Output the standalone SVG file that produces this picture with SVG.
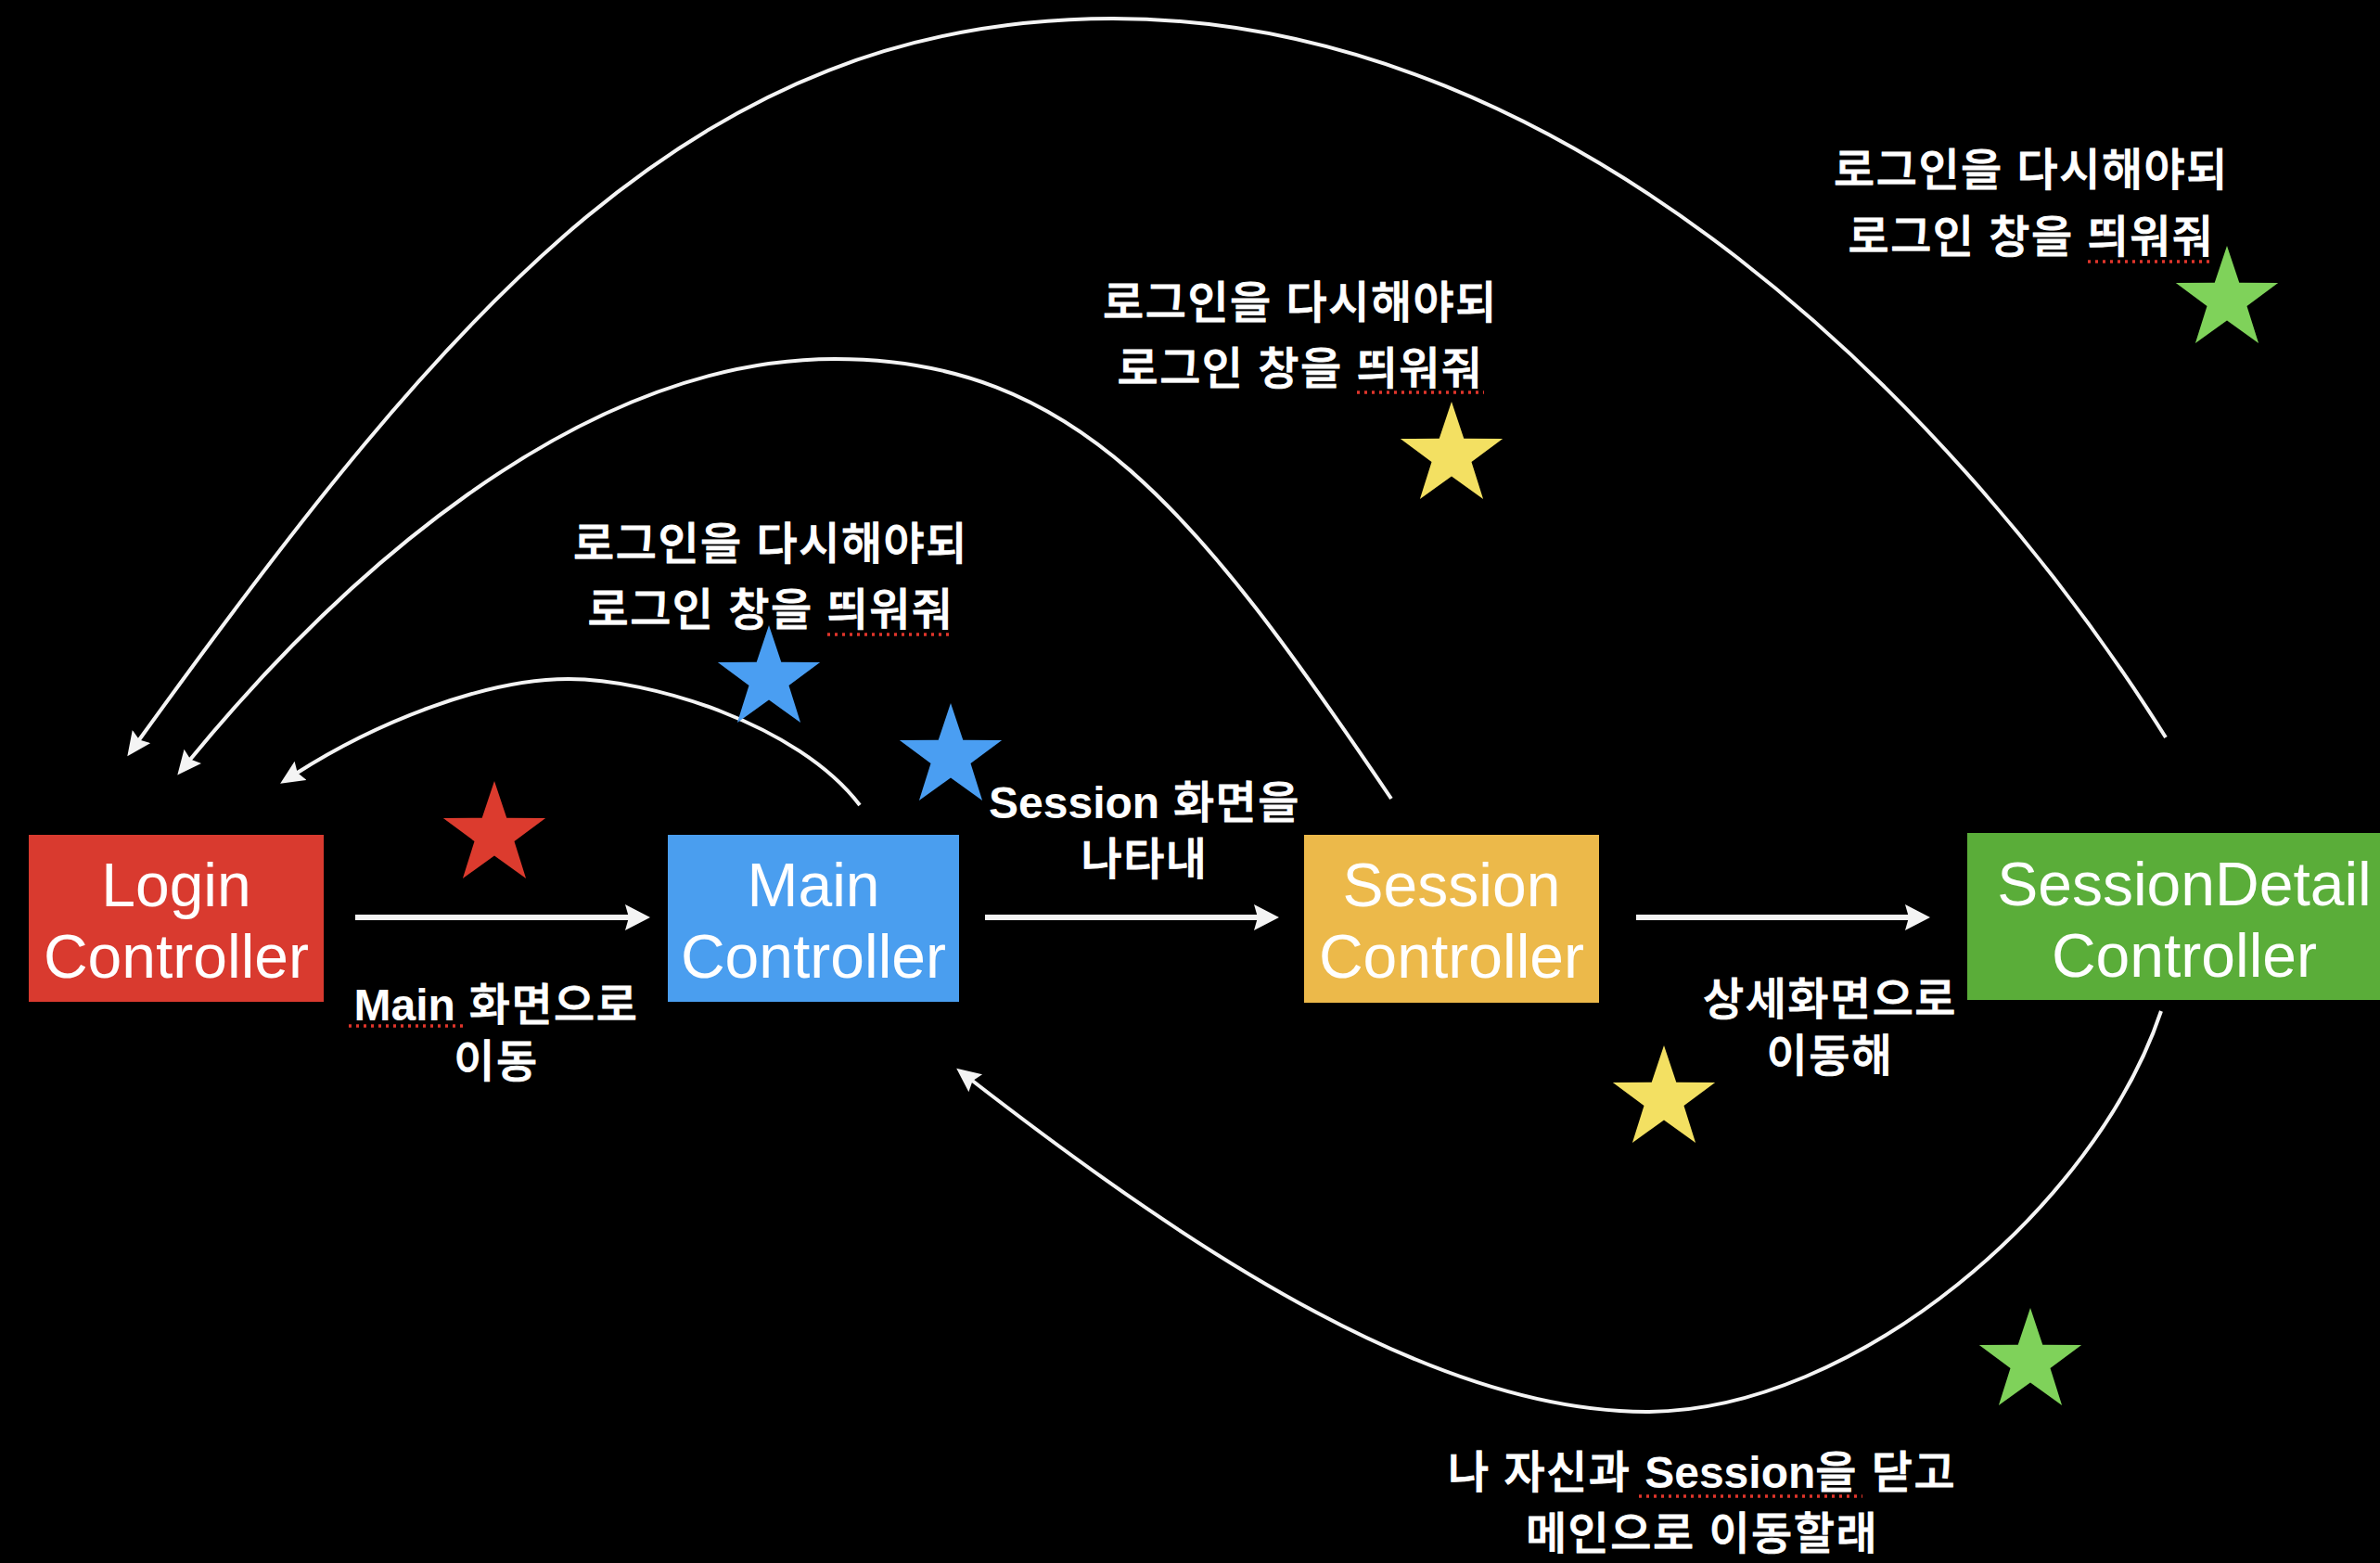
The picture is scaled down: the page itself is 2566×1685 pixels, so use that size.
<svg xmlns="http://www.w3.org/2000/svg" xmlns:xlink="http://www.w3.org/1999/xlink" width="2566" height="1685" viewBox="0 0 2566 1685">
  <style>
    .box-text { font-family: "Liberation Sans", Arial, "Noto Sans CJK KR", sans-serif; font-size: 66px; fill: #ffffff; text-anchor: middle; }
    .label { font-family: "Liberation Sans", "Noto Sans CJK KR", sans-serif; font-size: 48px; font-weight: 500; letter-spacing: 1.5px; fill: #ffffff; stroke: #ffffff; stroke-width: 0.9px; text-anchor: middle; }
    .latin { font-weight: 700; letter-spacing: 0px; stroke: none; }
    .conn { fill: none; stroke: #f4f4f4; stroke-linecap: butt; }
    .straight { stroke-width: 6; marker-end: url(#arrowThick); }
    .curve { stroke-width: 4; marker-end: url(#arrowThin); }
    .spell { stroke: #e0352b; stroke-width: 3.5; stroke-dasharray: 3 5; fill: none; }
  </style>
  <defs>
    <marker id="arrowThick" markerUnits="userSpaceOnUse" markerWidth="30" markerHeight="30" refX="6" refY="14" orient="auto">
      <path d="M0,0 L27,14 L0,28 L4,14 z" fill="#f4f4f4"/>
    </marker>
    <marker id="arrowThin" markerUnits="userSpaceOnUse" markerWidth="30" markerHeight="28" refX="6" refY="12" orient="auto">
      <path d="M0,0 L26,12 L0,24 L4,12 z" fill="#f4f4f4"/>
    </marker>
    <path id="star" d="M0,-58 L13.28,-18.28 L55.16,-17.92 L21.49,6.98 L34.09,46.92 L0,22.6 L-34.09,46.92 L-21.49,6.98 L-55.16,-17.92 L-13.28,-18.28 Z"/>
  </defs>

  <rect x="0" y="0" width="2566" height="1685" fill="#000000"/>

  <g id="connectors">
    <line class="conn straight" x1="383" y1="989" x2="680" y2="989"/>
    <line class="conn straight" x1="1062" y1="989" x2="1358" y2="989"/>
    <line class="conn straight" x1="1764" y1="989" x2="2060" y2="989"/>
    <path class="conn curve" d="M927,868 C860,780 700,732 613,732 C520,732 402,781 319,834"/>
    <path class="conn curve" d="M1500,861 C1290,550 1160,387 900,387 C620,387 360,630 204,820"/>
    <path class="conn curve" d="M2335,795 C2119,451 1700,20 1200,20 C750,20 487,330 149,799"/>
    <path class="conn curve" d="M2330,1090 C2260,1300 2000,1522 1775,1522 C1550,1522 1295,1356 1047,1164"/>
  </g>

  <g id="node-login">
    <rect x="31" y="900" width="318" height="180" fill="#d93a2f"/>
    <text class="box-text" x="190" y="977">Login</text>
    <text class="box-text" x="190" y="1054">Controller</text>
  </g>
  <g id="node-main">
    <rect x="720" y="900" width="314" height="180" fill="#4a9eef"/>
    <text class="box-text" x="877" y="977">Main</text>
    <text class="box-text" x="877" y="1054">Controller</text>
  </g>
  <g id="node-session">
    <rect x="1406" y="900" width="318" height="181" fill="#ecb94a"/>
    <text class="box-text" x="1565" y="977">Session</text>
    <text class="box-text" x="1565" y="1054">Controller</text>
  </g>
  <g id="node-sessiondetail">
    <rect x="2121" y="898" width="470" height="180" fill="#5aad39"/>
    <text class="box-text" x="2355" y="976">SessionDetail</text>
    <text class="box-text" x="2355" y="1053">Controller</text>
  </g>

  <g id="stars">
    <use xlink:href="#star" href="#star" x="533" y="900" fill="#dc3b2e"/>
    <use xlink:href="#star" href="#star" x="829" y="732" fill="#4a9ef2"/>
    <use xlink:href="#star" href="#star" x="1025" y="816" fill="#4a9ef2"/>
    <use xlink:href="#star" href="#star" x="1565" y="491" fill="#f3e062"/>
    <use xlink:href="#star" href="#star" x="1794" y="1185" fill="#f3e062"/>
    <use xlink:href="#star" href="#star" x="2401" y="323" fill="#7fd25a"/>
    <use xlink:href="#star" href="#star" x="2189" y="1468" fill="#7fd25a"/>
  </g>

  <g id="labels">
    <text class="label" x="831" y="603">로그인을 다시해야되</text>
    <text class="label" x="831" y="674">로그인 창을 띄워줘</text>
    <text class="label" x="1402" y="343">로그인을 다시해야되</text>
    <text class="label" x="1402" y="414">로그인 창을 띄워줘</text>
    <text class="label" x="2190" y="200">로그인을 다시해야되</text>
    <text class="label" x="2190" y="272">로그인 창을 띄워줘</text>
    <text class="label" x="535" y="1100"><tspan class="latin">Main</tspan> 화면으로</text>
    <text class="label" x="535" y="1161">이동</text>
    <text class="label" x="1234" y="882"><tspan class="latin">Session</tspan> 화면을</text>
    <text class="label" x="1234" y="943">나타내</text>
    <text class="label" x="1973" y="1094">상세화면으로</text>
    <text class="label" x="1973" y="1155">이동해</text>
    <text class="label" x="1835" y="1604">나 자신과 <tspan class="latin">Session</tspan>을 닫고</text>
    <text class="label" x="1835" y="1670">메인으로 이동할래</text>
  </g>

  <g id="spellcheck-marks">
    <line class="spell" x1="376" y1="1106" x2="500" y2="1106"/>
    <line class="spell" x1="892" y1="684" x2="1028" y2="684"/>
    <line class="spell" x1="1463" y1="423" x2="1600" y2="423"/>
    <line class="spell" x1="2251" y1="282" x2="2387" y2="282"/>
    <line class="spell" x1="1767" y1="1613" x2="2008" y2="1613"/>
  </g>
</svg>
